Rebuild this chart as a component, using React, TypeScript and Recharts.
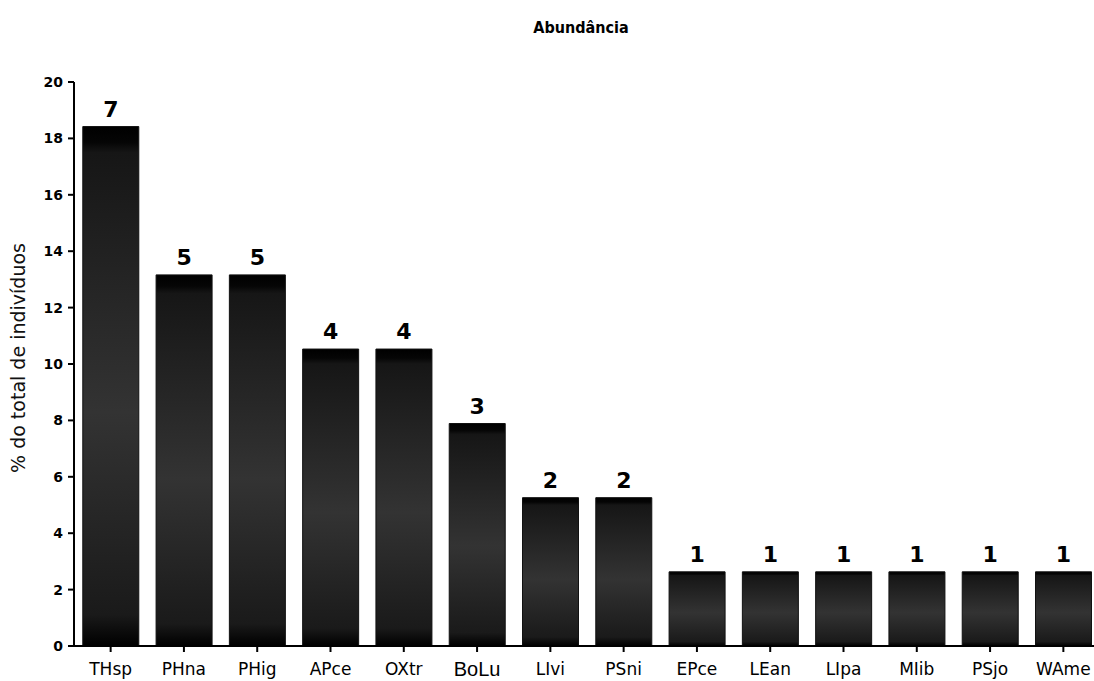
import React from 'react'
import { Bar, BarChart, LabelList, XAxis, YAxis } from 'recharts'

// espécies e contagens
const especies = ['THsp', 'PHna', 'PHig', 'APce', 'OXtr', 'BoLu', 'LIvi', 'PSni', 'EPce', 'LEan', 'LIpa', 'MIib', 'PSjo', 'WAme']
const individuos = [7, 5, 5, 4, 4, 3, 2, 2, 1, 1, 1, 1, 1, 1]
const percentuais = [18.42, 13.16, 13.16, 10.53, 10.53, 7.89, 5.26, 5.26, 2.63, 2.63, 2.63, 2.63, 2.63, 2.63]
const yTicks = [0, 2, 4, 6, 8, 10, 12, 14, 16, 18, 20]

const data = especies.map((nome, i) => ({
    nome,
    n: individuos[i],
    pct: percentuais[i],
}))

const font = '"DejaVu Sans", Verdana, sans-serif'

// o rótulo BoLu está noutra fonte no original
const TickX = (props: any) => {
    const { x, y, payload } = props
    const diferente = payload.value === 'BoLu'
    return (
        <text
            x={x}
            y={y}
            dy={diferente ? 22 : 21}
            textAnchor="middle"
            fill="#000"
            fontFamily={diferente ? '"Liberation Sans", Arial, sans-serif' : font}
            fontSize={diferente ? 20 : 17}
        >
            {payload.value}
        </text>
    )
}

const App = () => {
    return (
        <div style={{ position: 'absolute', left: 0, top: 0, width: 1094, height: 681, overflow: 'hidden', background: '#fff' }}>
            <div style={{ position: 'absolute', left: 0, top: 18, width: 1162, textAlign: 'center', fontFamily: '"DejaVu Sans Condensed", "DejaVu Sans", sans-serif', fontWeight: 'bold', fontSize: 16, color: '#000' }}>
                Abundância
            </div>
            <div style={{ position: 'absolute', left: 18, top: 358, transform: 'translate(-50%, -50%) rotate(-90deg)', whiteSpace: 'nowrap', fontFamily: font, fontSize: 19, color: '#111' }}>
                % do total de indivíduos
            </div>
            <BarChart
                width={1100}
                height={681}
                data={data}
                margin={{ top: 82, right: 0, left: 0, bottom: 0 }}
                barCategoryGap="12%"
                style={{ position: 'absolute', left: 0, top: 0 }}
            >
                <defs>
                    <linearGradient id="barra" x1="0" y1="0" x2="0" y2="1">
                        <stop offset="0" stopColor="#000" />
                        <stop offset="0.03" stopColor="#050505" />
                        <stop offset="0.05" stopColor="#161616" />
                        <stop offset="0.55" stopColor="#333" />
                        <stop offset="0.94" stopColor="#1a1a1a" />
                        <stop offset="0.98" stopColor="#080808" />
                        <stop offset="1" stopColor="#000" />
                    </linearGradient>
                </defs>
                <XAxis
                    dataKey="nome"
                    height={35}
                    interval={0}
                    axisLine={{ stroke: '#000', strokeWidth: 2 }}
                    tickLine={{ stroke: '#000', strokeWidth: 2 }}
                    tickSize={6}
                    tick={<TickX />}
                />
                <YAxis
                    type="number"
                    domain={[0, 20]}
                    ticks={yTicks}
                    width={74}
                    axisLine={{ stroke: '#000', strokeWidth: 2 }}
                    tickLine={{ stroke: '#000', strokeWidth: 2 }}
                    tickSize={6}
                    tickMargin={5}
                    tick={{ fill: '#000', fontFamily: font, fontSize: 14, fontWeight: 'bold' }}
                />
                <Bar dataKey="pct" fill="url(#barra)" stroke="#111" strokeWidth={1} isAnimationActive={false}>
                    <LabelList dataKey="n" position="top" offset={10} style={{ fill: '#000', fontFamily: font, fontSize: 22, fontWeight: 'bold' }} />
                </Bar>
            </BarChart>
        </div>
    )
}

export default App
